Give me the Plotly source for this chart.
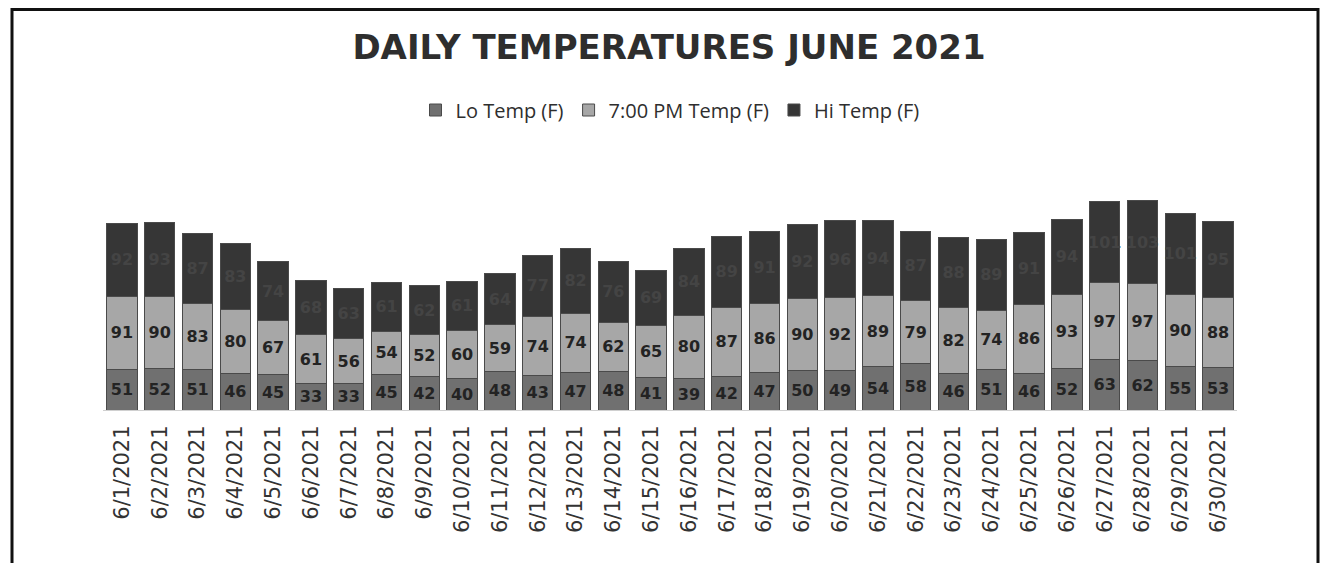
import plotly.graph_objects as go

dates = [f"6/{d}/2021" for d in range(1, 31)]
lo_temp = [51, 52, 51, 46, 45, 33, 33, 45, 42, 40, 48, 43, 47, 48, 41,
           39, 42, 47, 50, 49, 54, 58, 46, 51, 46, 52, 63, 62, 55, 53]
pm_temp = [91, 90, 83, 80, 67, 61, 56, 54, 52, 60, 59, 74, 74, 62, 65,
           80, 87, 86, 90, 92, 89, 79, 82, 74, 86, 93, 97, 97, 90, 88]
hi_temp = [92, 93, 87, 83, 74, 68, 63, 61, 62, 61, 64, 77, 82, 76, 69,
           84, 89, 91, 92, 96, 94, 87, 88, 89, 91, 94, 101, 103, 101, 95]

series = [
    ("Lo Temp (F)", lo_temp, "#707070", "#232323"),
    ("7:00 PM Temp (F)", pm_temp, "#a7a7a7", "#232323"),
    ("Hi Temp (F)", hi_temp, "#363636", "#444444"),
]

fig = go.Figure()
for name, vals, col, tcol in series:
    fig.add_trace(go.Bar(
        name=name, x=dates, y=vals,
        marker=dict(color=col, line=dict(color="#4a4a4a", width=1)),
        texttemplate="<b>%{y}</b>", textposition="inside",
        insidetextanchor="middle", textangle=0, constraintext="none",
        textfont=dict(family="DejaVu Sans", size=16, color=tcol),
        hoverinfo="skip",
    ))

# page body has an 8px margin; coordinates below are given in screen pixels
OFF = 8
W, H = 1320, 555
L, R = 103 - OFF, W - (1237 - OFF)
B = H - (410 - OFF)
T = 173 - OFF
pw = W - L - R
ph = H - T - B


def px_x(sx):
    return (sx - OFF - L) / pw


def px_y(sy):
    return (H - B - (sy - OFF)) / ph


fig.update_layout(
    width=W, height=H,
    barmode="stack", bargap=0.2,
    margin=dict(l=L, r=R, t=T, b=B, autoexpand=False),
    paper_bgcolor="white", plot_bgcolor="white",
    title=dict(text="<b>DAILY TEMPERATURES JUNE 2021</b>",
               x=(669 - OFF) / W, xanchor="center",
               y=1 - (47 - OFF) / H, yanchor="middle",
               font=dict(family="DejaVu Sans", size=34, color="#2e2e2e")),
    legend=dict(orientation="h", x=0.5, xanchor="center",
                y=px_y(110), yanchor="middle",
                font=dict(family="Open Sans", size=20, color="#2e2e2e"),
                itemwidth=30, traceorder="normal"),
    xaxis=dict(tickangle=-90, showgrid=False, ticks="",
               showline=True, linecolor="#d0d0d0", ticklabelstandoff=6,
               tickfont=dict(family="DejaVu Sans", size=21, color="#333333")),
    yaxis=dict(visible=False, range=[0, 297]),
    shapes=[dict(type="rect", xref="paper", yref="paper",
                 x0=px_x(12), x1=px_x(1318), y0=px_y(620), y1=px_y(9.5),
                 line=dict(color="#111111", width=3))],
)

fig.write_html("out.html")
